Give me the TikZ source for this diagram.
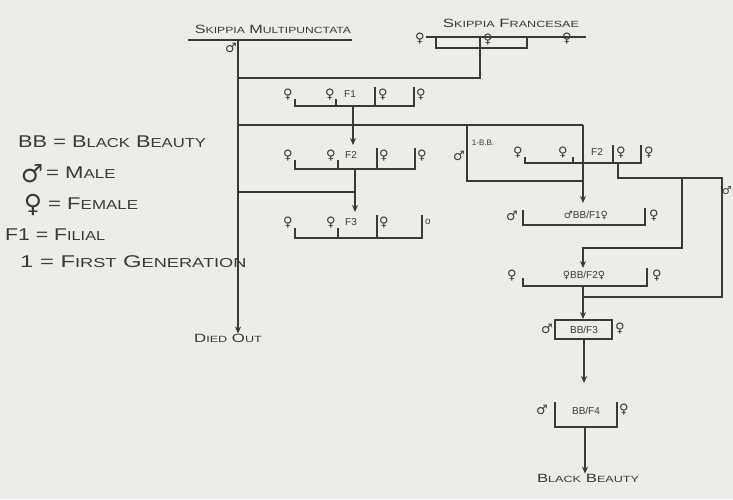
\documentclass[tikz,border=0pt]{standalone}
\usepackage{fontspec}
\setmainfont{Liberation Sans}
\newfontfamily\symfont{DejaVu Sans}
\usetikzlibrary{arrows.meta}
\definecolor{bg}{HTML}{EDECE8}
\definecolor{ink}{HTML}{3A3A38}
\newcommand\wid[2]{\scalebox{#1}[1]{#2}}
\newcommand\sm[1]{{\fontsize{9}{10}\selectfont #1}}
\newcommand\lsm[1]{{\fontsize{13}{14}\selectfont #1}}
\newcommand\fem{{\symfont ♀}}
\newcommand\mal{{\symfont ♂}}
\begin{document}
\begin{tikzpicture}[x=1pt,y=-1pt,
  ln/.style={draw=ink,line width=1.1pt},
  arr/.style={ln,-{Stealth[length=7pt,width=6pt]}},
  hand/.style={text=ink,inner sep=0pt,font=\fontsize{12}{13}\selectfont},
  leg/.style={text=ink,inner sep=0pt,anchor=west,font=\fontsize{17}{18}\selectfont},
  lbl/.style={text=ink,inner sep=0pt,font=\fontsize{10}{11}\selectfont},
  sym/.style={text=ink,inner sep=0pt,font=\symfont\fontsize{13}{13}\selectfont},
  bigsym/.style={text=ink,inner sep=0pt,font=\symfont\fontsize{25}{25}\selectfont}]
\useasboundingbox[fill=bg] (0,0) rectangle (733,499);

% ---------- legend ----------
\node[leg] (l1) at (18,142) {\wid{1.28}{BB = B\lsm{LACK} B\lsm{EAUTY}}};
\node[bigsym] (l2s) at (32,174) {♂};
\node[leg] (l2) at (46,173) {\wid{1.3}{= M\lsm{ALE}}};
\node[bigsym] (l3s) at (33,205) {♀};
\node[leg] (l3) at (48,204) {\wid{1.3}{= F\lsm{EMALE}}};
\node[leg] (l4) at (5,235) {\wid{1.25}{F1 = F\lsm{ILIAL}}};
\node[leg] (l5) at (20,262) {\wid{1.4}{1 = F\lsm{IRST} G\lsm{ENERATION}}};

% ---------- top left parent ----------
\node[hand] (smt) at (273,29) {\wid{1.35}{S\sm{KIPPIA} M\sm{ULTIPUNCTATA}}};
\coordinate (smL) at (188,40);
\coordinate (smR) at (352,40);
\draw[ln] (smL) -- (smR);
\node[sym] (smm) at (231,48) {♂};
\coordinate (vTop) at (238,40);
\node[hand] (died) at (228,338) {\wid{1.4}{D\sm{IED} O\sm{UT}}};
\draw[arr] (vTop) -- (vTop |- died.north);

% ---------- top right parent ----------
\node[hand] (sft) at (511,23) {\wid{1.4}{S\sm{KIPPIA} F\sm{RANCESAE}}};
\coordinate (sfL) at (426,37);
\coordinate (sfR) at (586,37);
\draw[ln] (sfL) -- (sfR);
\node[sym] (sfa) at (420,39) {♀};
\node[sym] (sfb) at (488,40) {♀};
\node[sym] (sfc) at (567,39) {♀};
\coordinate (bx1) at (436,37);
\coordinate (bx2) at (527,37);
\draw[ln] (bx1) -- (436,48) -- (527,48) -- (bx2);
\coordinate (j1) at (480,37);
\coordinate (j2) at (480,78);
\coordinate (j3) at (238,78);
\draw[ln] (j1) -- (j2) -- (j3);

% ---------- F1 ----------
\node[sym] (a1) at (288,95) {♀};
\node[sym] (b1) at (330,95) {♀};
\node[lbl] (f1) at (350,94) {F1};
\node[sym] (c1) at (383,95) {♀};
\node[sym] (d1) at (421,95) {♀};
\draw[ln] (295,99) -- (295,106) -- (414,106) -- (414,87);
\draw[ln] (336,99) -- (336,106);
\draw[ln] (375,87) -- (375,106);
\coordinate (s1) at (353,106);
\draw[arr] (s1) -- (353,145);

\coordinate (h1L) at (238,125);
\coordinate (h1R) at (583,125);
\draw[ln] (h1L) -- (h1R);

% ---------- F2 left ----------
\node[sym] (a2) at (288,156) {♀};
\node[sym] (b2) at (331,156) {♀};
\node[lbl] (f2) at (351,155) {F2};
\node[sym] (c2) at (384,156) {♀};
\node[sym] (d2) at (422,156) {♀};
\draw[ln] (295,160) -- (295,169) -- (415,169) -- (415,148);
\draw[ln] (338,160) -- (338,169);
\draw[ln] (377,148) -- (377,169);
\coordinate (s2) at (355,169);
\draw[arr] (s2) -- (355,212);
\coordinate (h2L) at (238,192);
\coordinate (h2R) at (355,192);
\draw[ln] (h2L) -- (h2R);

% ---------- F3 ----------
\node[sym] (a3) at (288,223) {♀};
\node[sym] (b3) at (331,223) {♀};
\node[lbl] (f3) at (351,222) {F3};
\node[sym] (c3) at (384,223) {♀};
\node[lbl] (d3) at (428,222) {o};
\draw[ln] (295,228) -- (295,238) -- (422,238) -- (422,215);
\draw[ln] (338,228) -- (338,238);
\draw[ln] (377,215) -- (377,238);

% ---------- 1-B.B. ----------
\coordinate (k1) at (467,125);
\coordinate (k2) at (467,181);
\coordinate (k3) at (583,181);
\draw[ln] (k1) -- (k2) -- (k3);
\node[lbl,font=\fontsize{8}{9}\selectfont] (bb1) at (483,143) {1-B.B.};
\node[sym] (bbm) at (459,156) {♂};
\draw[arr] (h1R) -- (583,203);

% ---------- F2 right ----------
\node[sym] (ra) at (518,153) {♀};
\node[sym] (rb) at (563,153) {♀};
\node[lbl] (rf2) at (597,152) {F2};
\node[sym] (rc) at (621,153) {♀};
\node[sym] (rd) at (649,153) {♀};
\draw[ln] (525,157) -- (525,163) -- (641,163) -- (641,145);
\draw[ln] (573,157) -- (573,163);
\draw[ln] (613,145) -- (613,163);
\coordinate (m1) at (618,163);
\coordinate (m2) at (618,178);
\coordinate (m3) at (722,178);
\coordinate (m4) at (722,297);
\coordinate (m5) at (583,297);
\draw[ln] (m1) -- (m2) -- (m3) -- (m4) -- (m5);
\coordinate (n1) at (682,178);
\coordinate (n2) at (682,248);
\coordinate (n3) at (583,248);
\draw[arr] (n1) -- (n2) -- (n3) -- (583,268);
\node[sym,anchor=east,font=\symfont\fontsize{11}{11}\selectfont] (rm) at (732,191) {♂};

% ---------- BB/F1 ----------
\node[sym] (p1m) at (512,216) {♂};
\node[lbl] (p1) at (586,215) {\mal BB/F1\fem};
\node[sym] (p1f) at (654,216) {♀};
\draw[ln] (523,210) -- (523,225) -- (645,225) -- (645,208);

% ---------- BB/F2 ----------
\node[sym] (p2m) at (512,276) {♀};
\node[lbl] (p2) at (584,275) {\fem BB/F2\fem};
\node[sym] (p2f) at (657,276) {♀};
\draw[ln] (523,278) -- (523,286) -- (647,286) -- (647,268);
\coordinate (s5) at (583,286);
\draw[arr] (s5) -- (583,319);

% ---------- BB/F3 ----------
\node[sym] (p3m) at (547,329) {♂};
\node[lbl] (p3) at (584,330) {BB/F3};
\node[sym] (p3f) at (620,329) {♀};
\draw[ln] (555,320) rectangle (612,339);
\coordinate (s6) at (584,339);
\draw[arr] (s6) -- (584,383);

% ---------- BB/F4 ----------
\node[sym] (p4m) at (542,410) {♂};
\node[lbl] (p4) at (586,411) {BB/F4};
\node[sym] (p4f) at (624,410) {♀};
\draw[ln] (555,402) -- (555,427) -- (617,427) -- (617,402);
\coordinate (s7) at (585,427);
\node[hand] (bb) at (588,478) {\wid{1.4}{B\sm{LACK} B\sm{EAUTY}}};
\draw[arr] (s7) -- (s7 |- bb.north);
\end{tikzpicture}
\end{document}
